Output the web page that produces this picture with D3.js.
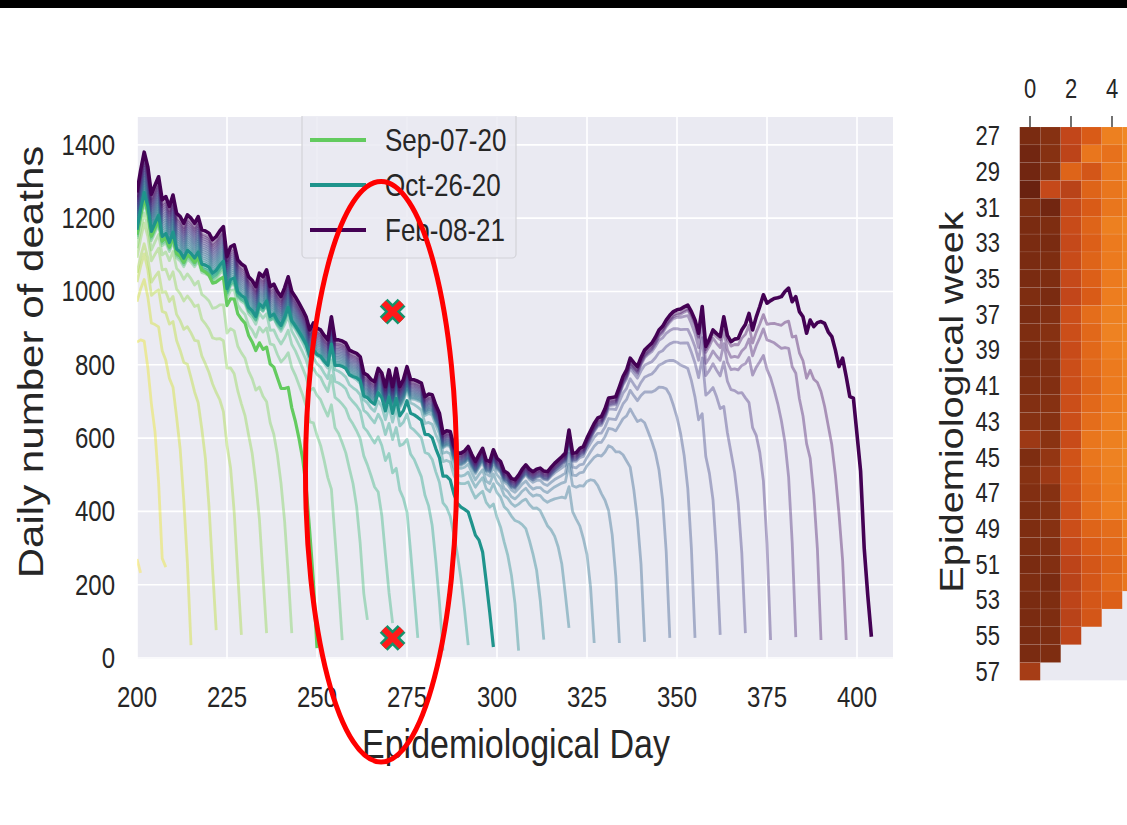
<!DOCTYPE html>
<html>
<head>
<meta charset="utf-8">
<script src="https://cdn.jsdelivr.net/npm/d3@7"></script>
<style>
	html, body { margin: 0; padding: 0; background: #ffffff; }
	svg { display: block; }
	text { font-family: 'Liberation Sans', Arial, sans-serif; fill: #262626; }
</style>
</head>
<body>
<svg id="figure" width="1127" height="825"></svg>
<script>
// latest report (Feb-08-21), daily deaths from day 200 to day 404
var startDay = 200;
var latestDeaths = [
	1270, 1330, 1380, 1340, 1265, 1290, 1313, 1250, 1259, 1232,
	1263, 1213, 1204, 1186, 1209, 1200, 1186, 1204, 1168, 1165,
	1159, 1141, 1150, 1165, 1177, 1095, 1122, 1127, 1086, 1075,
	1068, 1040, 1030, 1013, 1050, 1040, 1059, 1013, 1020, 1000,
	986, 1010, 1040, 1000, 985, 968, 950, 930, 895, 914,
	900, 895, 880, 868, 931, 868, 868, 865, 859, 840,
	835, 831, 822, 777, 772, 760, 754, 790, 777, 740,
	786, 740, 790, 740, 760, 795, 760, 759, 755, 750,
	713, 720, 718, 690, 668, 613, 620, 618, 580, 559,
	559, 565, 577, 555, 536, 555, 572, 540, 536, 568,
	545, 536, 510, 504, 490, 486, 499, 515, 527, 515,
	508, 515, 518, 510, 508, 520, 531, 540, 549, 559,
	622, 559, 560, 572, 577, 600, 620, 640, 655, 659,
	680, 709, 711, 713, 740, 768, 786, 818, 806, 795,
	820, 840, 850, 859, 875, 895, 905, 922, 935, 945,
	950, 952, 958, 963, 945, 922, 886, 959, 850, 870,
	895, 885, 877, 931, 880, 863, 870, 872, 895, 910,
	940, 895, 930, 959, 991, 968, 975, 981, 983, 986,
	1000, 1009, 972, 986, 945, 931, 886, 922, 904, 915,
	918, 913, 890, 877, 840, 795, 818, 768, 713, 709,
	610, 510, 300, 170, 58
];

// weekly reports: last day covered by each report
var reportDays = [201, 208, 215, 222, 229, 236, 243, 250, 257, 264,
	271, 278, 285, 292, 299, 306, 313, 320, 327, 334,
	341, 348, 355, 362, 369, 376, 383, 390, 397, 404];
// share of the latest count already reported once a day is old enough
var plateauShare = [0.85, 0.87, 0.86, 0.85, 0.84, 0.86, 0.88, 0.91, 0.9, 0.905,
	0.91, 0.91, 0.915, 0.92, 0.92, 0.925, 0.93, 0.935, 0.94, 0.945,
	0.95, 0.955, 0.96, 0.965, 0.97, 0.975, 0.98, 0.985, 0.99, 1];
// value on the last day of each report
var lastReported = [232, 248, 35, 76, 63, 68, 68, 27, 49, 104,
	95, 55, 20, 35, 30, 20, 50, 82, 41, 41,
	44, 55, 55, 63, 68, 49, 57, 49, 49, 58];
// completeness by reporting delay (days), before and after day 300
var lagSlow = [0.04, 0.25, 0.42, 0.55, 0.63, 0.68, 0.72, 0.75, 0.78, 0.8,
	0.82, 0.84, 0.855, 0.87, 0.88, 0.89, 0.9, 0.91, 0.92, 0.93,
	0.94, 0.945, 0.95, 0.955, 0.96, 0.965, 0.97, 0.975, 0.98, 0.985,
	0.99, 0.993, 0.996, 0.998, 1];
var lagFast = [0.05, 0.33, 0.5, 0.6, 0.67, 0.72, 0.76, 0.8, 0.83, 0.85,
	0.86, 0.87, 0.88, 0.89, 0.9, 0.91, 0.92, 0.925, 0.93, 0.935,
	0.94, 0.945, 0.95, 0.955, 0.96, 0.965, 0.97, 0.975, 0.98, 0.985,
	0.99, 0.993, 0.996, 0.998, 1];

var legendLabels = ['Sep-07-20', 'Oct-26-20', 'Feb-08-21'];
var legendDays = [250, 299, 404];
var dayTicks = [200, 225, 250, 275, 300, 325, 350, 375, 400];
var deathTicks = [0, 200, 400, 600, 800, 1000, 1200, 1400];

// annotation: ellipse centre/radii (day, deaths) and the two crosses
var ellipseCentre = [267.8, 508];
var ellipseRadii = [21, 792];
var crossDays = [271, 271];
var crossDeaths = [945, 55];

// heatmap: epidemiological week x delay column
var weeks = [27, 28, 29, 30, 31, 32, 33, 34, 35, 36, 37, 38, 39, 40, 41, 42,
	43, 44, 45, 46, 47, 48, 49, 50, 51, 52, 53, 54, 55, 56, 57];
var delayCols = [0, 1, 2, 3, 4, 5];
var weekTicks = [27, 29, 31, 33, 35, 37, 39, 41, 43, 45, 47, 49, 51, 53, 55, 57];
var delayTicks = [0, 2, 4];
var delayShade = [
	[0.96, 0.93, 0.8, 0.72, 0.63, 0.6],
	[0.98, 0.93, 0.81, 0.66, 0.67, 0.6],
	[0.98, 0.93, 0.7, 0.74, 0.66, 0.61],
	[1.0, 0.79, 0.82, 0.7, 0.66, 0.61],
	[0.95, 0.98, 0.79, 0.72, 0.66, 0.62],
	[0.96, 0.95, 0.78, 0.7, 0.63, 0.6],
	[0.96, 0.96, 0.79, 0.71, 0.65, 0.61],
	[0.96, 0.95, 0.78, 0.7, 0.65, 0.61],
	[0.96, 0.95, 0.79, 0.71, 0.65, 0.6],
	[0.95, 0.96, 0.8, 0.72, 0.64, 0.61],
	[0.96, 0.94, 0.77, 0.68, 0.63, 0.6],
	[0.95, 0.93, 0.77, 0.69, 0.62, 0.6],
	[0.96, 0.94, 0.78, 0.69, 0.64, 0.6],
	[0.96, 0.94, 0.77, 0.69, 0.65, 0.61],
	[0.95, 0.94, 0.77, 0.7, 0.65, 0.61],
	[0.94, 0.93, 0.77, 0.69, 0.65, 0.61],
	[0.93, 0.93, 0.77, 0.68, 0.64, 0.6],
	[0.88, 0.92, 0.78, 0.66, 0.63, 0.59],
	[0.95, 0.9, 0.75, 0.66, 0.62, 0.59],
	[0.93, 0.88, 0.75, 0.67, 0.63, 0.6],
	[0.94, 0.93, 0.76, 0.68, 0.64, 0.6],
	[0.95, 0.93, 0.77, 0.68, 0.64, 0.61],
	[0.95, 0.93, 0.77, 0.7, 0.68, 0.63],
	[0.95, 0.94, 0.79, 0.72, 0.69, 0.64],
	[0.96, 0.94, 0.81, 0.74, 0.7, 0.66],
	[0.95, 0.96, 0.82, 0.74, 0.69, 0.66],
	[0.96, 0.95, 0.81, 0.74, 0.71],
	[0.96, 0.95, 0.82, 0.74],
	[0.96, 0.95, 0.81],
	[0.96, 0.95],
	[0.86]
];
var shadeStops = [0.55, 0.65, 0.72, 0.8, 0.92, 1];
var shadeColors = ['#f3962a', '#ec7a1e', '#d95b17', '#c2461a', '#8a3312', '#6a2210'];

function NowcastFigure(options) {
	this.options = options || {};
	this.svg = d3.select(this.options.container || '#figure');
	this.plot = {left: 137, right: 893, top: 117, bottom: 659};
	this.heat = {left: 1019.75, top: 127, cellW: 20.5, cellH: 17.85};
	this.stretch = 1.22;   // source picture is stretched vertically
	this.init();
}

NowcastFigure.prototype = {
	constructor: NowcastFigure,

	init: function () {
		this.x = d3.scaleLinear().domain([200, 410]).range([this.plot.left, this.plot.right]);
		this.y = d3.scaleLinear().domain([-2.7, 1476]).range([this.plot.bottom, this.plot.top]);
		this.color = function (i) {
			return d3.interpolateViridis(1 - i / (reportDays.length - 1));
		};
		this.draw();
	},

	draw: function () {
		this.svg.append('rect').attr('x', 0).attr('y', 0).attr('width', 1127).attr('height', 8).attr('fill', '#000');
		this.drawPanel();
		this.drawReports();
		this.drawLegend();
		this.drawAnnotation();
		this.drawHeatmap();
	},

	_label: function (sel, str, x, y, size, anchor, rotate) {
		var t = sel.append('text')
			.attr('transform', 'translate(' + x + ',' + y + ')' + (rotate ? ' rotate(-90) scale(' + this.stretch + ',1)' : ' scale(1,' + this.stretch + ')'))
			.attr('text-anchor', anchor || 'middle')
			.attr('dominant-baseline', 'central')
			.style('font-size', size + 'px')
			.text(str);
		return t;
	},

	drawPanel: function () {
		var self = this;
		var p = this.plot;
		var g = this.svg.append('g');
		g.append('rect').attr('x', p.left).attr('y', p.top)
			.attr('width', p.right - p.left).attr('height', p.bottom - p.top).attr('fill', '#eaeaf2');

		g.selectAll('.vgrid').data(dayTicks).enter().append('line')
			.attr('x1', function (d) { return self.x(d); }).attr('x2', function (d) { return self.x(d); })
			.attr('y1', p.top).attr('y2', p.bottom)
			.attr('stroke', '#fff').attr('stroke-width', 1.6);
		g.selectAll('.hgrid').data(deathTicks).enter().append('line')
			.attr('y1', function (d) { return self.y(d); }).attr('y2', function (d) { return self.y(d); })
			.attr('x1', p.left).attr('x2', p.right)
			.attr('stroke', '#fff').attr('stroke-width', 1.6);

		for (var i = 0; i < dayTicks.length; i++) {
			this._label(g, dayTicks[i], this.x(dayTicks[i]), 697, 24, 'middle');
		}
		for (var j = 0; j < deathTicks.length; j++) {
			this._label(g, deathTicks[j], 115, this.y(deathTicks[j]), 24, 'end');
		}
		this._label(g, 'Epidemiological Day', 516, 744, 34, 'middle');
		this._label(g, 'Daily number of deaths', 31, 362, 34.5, 'middle', true);

		this.svg.append('clipPath').attr('id', 'plot-clip').append('rect')
			.attr('x', p.left).attr('y', p.top).attr('width', p.right - p.left).attr('height', p.bottom - p.top);
	},

	_reportSeries: function (i) {
		var end = reportDays[i];
		var lag = end < 300 ? lagSlow : lagFast;
		var pts = [];
		for (var d = startDay; d <= end; d++) {
			var v = latestDeaths[d - startDay];
			if (i < reportDays.length - 1) {
				var delay = end - d;
				var f = delay < lag.length ? lag[delay] : 1;
				v = d === end ? lastReported[i] : v * plateauShare[i] * f;
			}
			pts.push({day: d, value: v});
		}
		return pts;
	},

	drawReports: function () {
		var self = this;
		var line = d3.line()
			.x(function (d) { return self.x(d.day); })
			.y(function (d) { return self.y(d.value); });
		var g = this.svg.append('g').attr('clip-path', 'url(#plot-clip)');
		var order = [];
		for (var i = 0; i < reportDays.length; i++) {
			if (legendDays.indexOf(reportDays[i]) < 0) order.push(i);
		}
		for (var k = 0; k < legendDays.length; k++) {
			order.push(reportDays.indexOf(legendDays[k]));
		}
		order.forEach(function (i) {
			var main = legendDays.indexOf(reportDays[i]) >= 0;
			g.append('path')
				.datum(self._reportSeries(i))
				.attr('d', line)
				.attr('fill', 'none')
				.attr('stroke', self.color(i))
				.attr('stroke-opacity', main ? 1 : 0.4)
				.attr('stroke-width', main ? (i === reportDays.length - 1 ? 3.6 : 3.2) : 2.8)
				.attr('stroke-linejoin', 'round');
		});
	},

	drawLegend: function () {
		var g = this.svg.append('g');
		g.append('path')
			.attr('d', 'M302,116V254a4,4 0 0 0 4,4H512a4,4 0 0 0 4,-4V116')
			.attr('fill', '#eaeaf2').attr('fill-opacity', 0.85)
			.attr('stroke', '#d2d2d8').attr('stroke-width', 1.2);
		for (var k = 0; k < legendLabels.length; k++) {
			var yy = 140 + k * 45;
			var i = reportDays.indexOf(legendDays[k]);
			g.append('line').attr('x1', 310).attr('x2', 366).attr('y1', yy).attr('y2', yy)
				.attr('stroke', this.color(i)).attr('stroke-width', 3.8);
			this._label(g, legendLabels[k], 385, yy, 26, 'start');
		}
	},

	drawAnnotation: function () {
		var self = this;
		var g = this.svg.append('g');
		g.append('ellipse')
			.attr('cx', this.x(ellipseCentre[0])).attr('cy', this.y(ellipseCentre[1]))
			.attr('rx', this.x(ellipseCentre[0] + ellipseRadii[0]) - this.x(ellipseCentre[0]))
			.attr('ry', this.y(0) - this.y(ellipseRadii[1]))
			.attr('fill', 'none').attr('stroke', '#ff0000').attr('stroke-width', 5);
		var cross = 'M-9,-9L9,9M9,-9L-9,9';
		crossDays.forEach(function (d, k) {
			var c = g.append('g').attr('transform', 'translate(' + self.x(d) + ',' + self.y(crossDeaths[k]) + ')');
			c.append('path').attr('d', cross).attr('stroke', '#13936b').attr('stroke-width', 11);
			c.append('path').attr('d', cross).attr('stroke', '#ff1a1a').attr('stroke-width', 6);
		});
	},

	drawHeatmap: function () {
		var self = this;
		var h = this.heat;
		var g = this.svg.append('g');
		var shade = d3.scaleLinear().domain(shadeStops).range(shadeColors).clamp(true);
		g.append('rect').attr('x', h.left).attr('y', h.top)
			.attr('width', h.cellW * delayCols.length).attr('height', h.cellH * weeks.length)
			.attr('fill', '#eaeaf2');
		weeks.forEach(function (w, r) {
			delayShade[r].forEach(function (v, c) {
				g.append('rect')
					.attr('x', h.left + c * h.cellW).attr('y', h.top + r * h.cellH)
					.attr('width', h.cellW).attr('height', h.cellH)
					.attr('fill', shade(v))
					.attr('stroke', 'rgba(255,255,255,0.12)').attr('stroke-width', 0.6);
			});
		});
		delayTicks.forEach(function (c) {
			var cx = h.left + (c + 0.5) * h.cellW;
			g.append('line').attr('x1', cx).attr('x2', cx).attr('y1', h.top - 11).attr('y2', h.top)
				.attr('stroke', '#262626').attr('stroke-width', 1.3);
			self._label(g, c, cx, 89, 22, 'middle');
		});
		weekTicks.forEach(function (w) {
			var r = weeks.indexOf(w);
			self._label(g, w, 1000, h.top + (r + 0.5) * h.cellH, 22, 'end');
		});
		this._label(g, 'Epidemiological week', 952, 402, 32.5, 'middle', true);
	}
};

new NowcastFigure({container: '#figure'});
</script>
</body>
</html>
